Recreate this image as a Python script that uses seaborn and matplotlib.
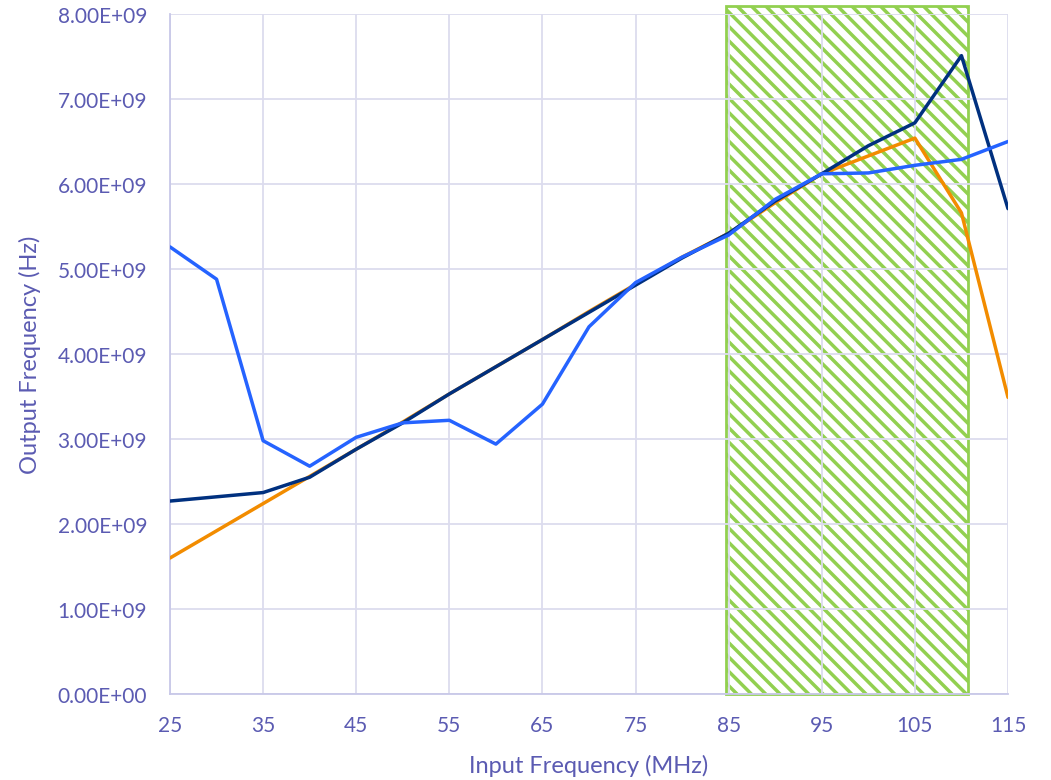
import numpy as np
import pandas as pd
import matplotlib
matplotlib.use("Agg")
import matplotlib.pyplot as plt
import seaborn as sns
from matplotlib.patches import Rectangle
from matplotlib.ticker import FuncFormatter

# Input frequency sweep (MHz)
input_mhz = [25, 30, 35, 40, 45, 50, 55, 60, 65, 70, 75, 80, 85, 90, 95, 100, 105, 110, 115]

# Output frequency (Hz) for three measurement series
series_orange = [1.60e9, 1.92e9, 2.24e9, 2.56e9, 2.88e9, 3.20e9, 3.53e9, 3.85e9, 4.17e9, 4.50e9,
                 4.82e9, 5.14e9, 5.42e9, 5.78e9, 6.12e9, 6.33e9, 6.54e9, 5.66e9, 3.49e9]
series_navy = [2.27e9, 2.32e9, 2.37e9, 2.55e9, 2.88e9, 3.19e9, 3.53e9, 3.85e9, 4.17e9, 4.49e9,
               4.81e9, 5.13e9, 5.42e9, 5.80e9, 6.12e9, 6.45e9, 6.72e9, 7.51e9, 5.71e9]
series_blue = [5.26e9, 4.88e9, 2.98e9, 2.68e9, 3.02e9, 3.19e9, 3.22e9, 2.94e9, 3.41e9, 4.32e9,
               4.84e9, 5.14e9, 5.40e9, 5.82e9, 6.12e9, 6.13e9, 6.22e9, 6.29e9, 6.50e9]
series_names = ["A", "B", "C"]

# Highlighted operating band (MHz) and its height (Hz)
band_start, band_end, band_top = 84.7, 110.7, 8.09e9

y_ticks = [0, 1e9, 2e9, 3e9, 4e9, 5e9, 6e9, 7e9, 8e9]
x_ticks = [25, 35, 45, 55, 65, 75, 85, 95, 105, 115]

df = pd.DataFrame({
    "Input": input_mhz * 3,
    "Output": series_orange + series_navy + series_blue,
    "Series": [series_names[0]] * len(input_mhz) + [series_names[1]] * len(input_mhz)
              + [series_names[2]] * len(input_mhz),
})

# Render at 86 dpi so the hatch pitch is ~14 px;
# PT rescales sizes so they keep the same pixel size as at 100 dpi.
DPI = 86
PT = 100 / DPI
W, H = 1051, 781

sns.set_theme(style="white")
plt.rcParams["font.family"] = ["Lato", "DejaVu Sans"]
plt.rcParams["hatch.linewidth"] = 2.5 * PT
plt.rcParams["hatch.color"] = "#92D050"

text_color = "#5B5BB2"
grid_color = "#DCDCEE"

fig = plt.figure(figsize=(W / DPI, H / DPI), dpi=DPI)
ax = fig.add_axes([170 / W, 1 - 695 / H, (1008 - 170) / W, (695 - 15) / H])

band = Rectangle((band_start, 0), band_end - band_start, band_top,
                 facecolor="none", edgecolor="#92D050", hatch="\\\\", linewidth=2.0 * PT,
                 zorder=0.4, clip_on=False)
ax.add_patch(band)

palette = {series_names[0]: "#F28C00", series_names[1]: "#00307F", series_names[2]: "#2563FF"}
sns.lineplot(data=df, x="Input", y="Output", hue="Series", palette=palette,
             linewidth=2.5 * PT, legend=False, ax=ax, zorder=3)

ax.set_xlim(25, 115)
ax.set_ylim(0, 8e9)
ax.set_xticks(x_ticks)
ax.set_yticks(y_ticks)
ax.yaxis.set_major_formatter(FuncFormatter(lambda v, _: f"{v:.2E}"))
ax.set_axisbelow(True)
ax.grid(True, color=grid_color, linewidth=1.3 * PT, zorder=0.5)

for side in ["top", "right"]:
    ax.spines[side].set_visible(False)
for side in ["left", "bottom"]:
    ax.spines[side].set_color("#C8C8E8")
    ax.spines[side].set_linewidth(1.3 * PT)

ax.tick_params(axis="both", length=0, labelsize=15 * PT, labelcolor=text_color)
ax.tick_params(axis="y", pad=16.5 * PT)
ax.tick_params(axis="x", pad=15 * PT)

ax.set_xlabel("Input Frequency (MHz)", fontsize=17 * PT, color=text_color, labelpad=14 * PT)
ax.set_ylabel("Output Frequency (Hz)", fontsize=17 * PT, color=text_color, labelpad=12 * PT)

fig.savefig("out.png", dpi=DPI)
